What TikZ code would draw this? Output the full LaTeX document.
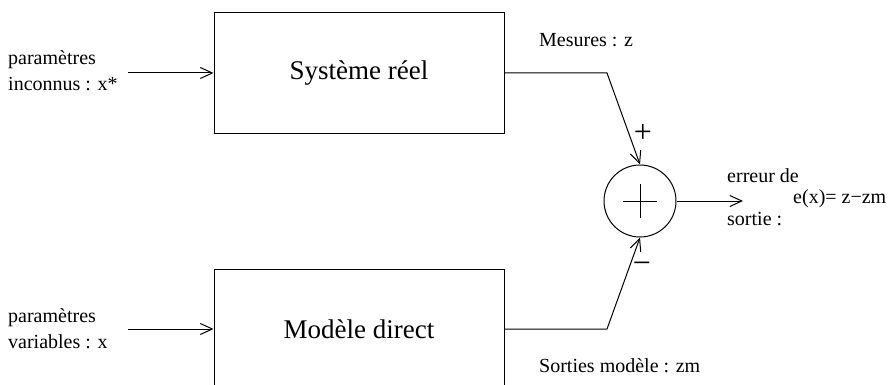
\documentclass[tikz,border=0pt]{standalone}
\usepackage{fontspec}
\setmainfont{Liberation Serif}
\usetikzlibrary{arrows.meta}

\tikzset{
    bloc/.style={draw, line width=1pt, minimum width=290pt, minimum height=120pt, inner sep=0pt,
        font=\fontsize{27}{32}\selectfont},
    somme/.style={draw, circle, line width=1pt, minimum size=72pt, inner sep=0pt},
    lbl/.style={inner sep=0pt, font=\fontsize{20}{26}\selectfont},
    signe/.style={inner sep=0pt, font=\fontsize{32}{36}\selectfont},
    fleche/.style={line width=1pt, -{Straight Barb[length=12pt,width=11pt,line width=1pt]}},
    trait/.style={line width=1pt},
}

\begin{document}
\begin{tikzpicture}[x=1pt, y=-1pt]
    \useasboundingbox (0,0) rectangle (893,385);
    \clip (0,0) rectangle (893,385);

    % blocs
    \node[bloc] (sys) at (359,73) {Système réel};
    \node[bloc] (mod) at (359,329) {Modèle direct};

    % sommateur
    \node[somme] (sum) at (640,201) {};
    \draw[trait] ([xshift=-17pt]sum.center) -- ([xshift=17pt]sum.center);
    \draw[trait] ([yshift=-17pt]sum.center) -- ([yshift=17pt]sum.center);

    % entrees
    \node[lbl, align=left, anchor=west] (pin) at (8,71) {paramètres\\inconnus : x*};
    \node[lbl, align=left, anchor=west] (pvar) at (8,329) {paramètres\\variables : x};
    \coordinate (in1) at (128,73);
    \coordinate (in2) at (128,329);
    \draw[fleche] (in1) -- (sys.west);
    \draw[fleche] (in2) -- (mod.west);

    % sorties
    \coordinate (k1) at (607,73);
    \coordinate (k2) at (607,329);
    \draw[fleche] (sys.east) -- (k1) -- (sum.north);
    \draw[fleche] (mod.east) -- (k2) -- (sum.south);
    \node[lbl, anchor=base west] (mes) at (539,47) {Mesures : z};
    \node[lbl, anchor=base west] (sor) at (539,372) {Sorties modèle : zm};
    \node[signe] (plus) at (643,133) {+};
    \node[signe] (moins) at (642,268) {−};

    % erreur
    \coordinate (out) at (743,201);
    \draw[fleche] (sum.east) -- (out);
    \node[lbl, align=left, anchor=west, font=\fontsize{20}{43}\selectfont] (err) at (727,197) {erreur de\\sortie :};
    \node[lbl, anchor=base west] (ex) at (793,203) {e(x)= z−zm};
\end{tikzpicture}
\end{document}
